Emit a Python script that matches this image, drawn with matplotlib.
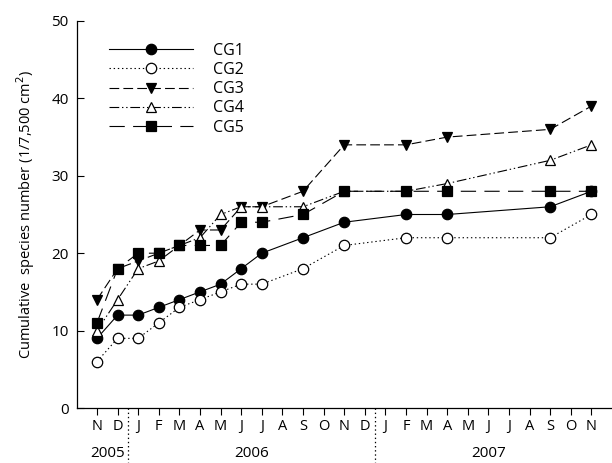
import matplotlib
matplotlib.use("Agg")
import matplotlib.pyplot as plt
import matplotlib.transforms as mtransforms

plt.rcParams['font.family'] = ['Open Sans', 'DejaVu Sans']
plt.rcParams['lines.scale_dashes'] = False

month_labels = ["N", "D", "J", "F", "M", "A", "M", "J", "J", "A", "S", "O", "N",
                "D", "J", "F", "M", "A", "M", "J", "J", "A", "S", "O", "N"]
sample_idx = [0, 1, 2, 3, 4, 5, 6, 7, 8, 10, 12, 15, 17, 22, 24]

cg1 = [9, 12, 12, 13, 14, 15, 16, 18, 20, 22, 24, 25, 25, 26, 28]
cg2 = [6, 9, 9, 11, 13, 14, 15, 16, 16, 18, 21, 22, 22, 22, 25]
cg3 = [14, 18, 19, 20, 21, 23, 23, 26, 26, 28, 34, 34, 35, 36, 39]
cg4 = [10, 14, 18, 19, 21, 22, 25, 26, 26, 26, 28, 28, 29, 32, 34]
cg5 = [11, 18, 20, 20, 21, 21, 21, 24, 24, 25, 28, 28, 28, 28, 28]

years = ["2005", "2006", "2007"]
year_pos = [0.5, 7.5, 19.0]
dividers = [1.5, 13.5]

fig = plt.figure(figsize=(6.12, 4.63), dpi=100)
ax = fig.add_axes([77/612, 55/463, 1 - 77/612, 387/463])

lw = 0.8
ms = 7.5
styles = [
    ("CG1", cg1, "-", "o", "black"),
    ("CG2", cg2, (0, (1, 2)), "o", "white"),
    ("CG3", cg3, (0, (7, 3)), "v", "black"),
    ("CG4", cg4, (0, (7, 2, 1, 2, 1, 2)), "^", "white"),
    ("CG5", cg5, (0, (11, 6)), "s", "black"),
]
for name, vals, ls, mk, fc in styles:
    ax.plot(sample_idx, vals, linestyle=ls, color="black", lw=lw, marker=mk,
            markersize=ms, markerfacecolor=fc, markeredgecolor="black",
            markeredgewidth=0.9, label=name, clip_on=False, zorder=3)

ax.set_xlim(-0.97, 25)
ax.set_ylim(0, 50)
ax.set_yticks([0, 10, 20, 30, 40, 50])
ax.set_xticks(range(len(month_labels)))
ax.set_xticklabels(month_labels)
ax.tick_params(axis='y', direction='in', length=5, labelsize=11, pad=6)
ax.tick_params(axis='x', direction='out', length=5, labelsize=10.5, pad=3)
for s in ["top", "right"]:
    ax.spines[s].set_visible(False)
ax.spines["left"].set_linewidth(0.9)
ax.spines["bottom"].set_linewidth(0.9)

ax.set_ylabel("Cumulative  species number (1/7,500 cm$^2$)", fontsize=10.5, labelpad=10)

trans = mtransforms.blended_transform_factory(ax.transData, ax.transAxes)
for d in dividers:
    ax.plot([d, d], [0, -0.15], transform=trans, color="black", lw=0.9,
            linestyle=(0, (1, 2)), clip_on=False)
for y, p in zip(years, year_pos):
    ax.text(p, -0.118, y, transform=trans, ha="center", va="center", fontsize=11)

leg = ax.legend(loc="upper left", bbox_to_anchor=(0.047, 0.96), frameon=False,
                handlelength=5.3, handletextpad=1.25, labelspacing=0.2, fontsize=11.5,
                borderaxespad=0)

fig.savefig("out.png", dpi=100)
